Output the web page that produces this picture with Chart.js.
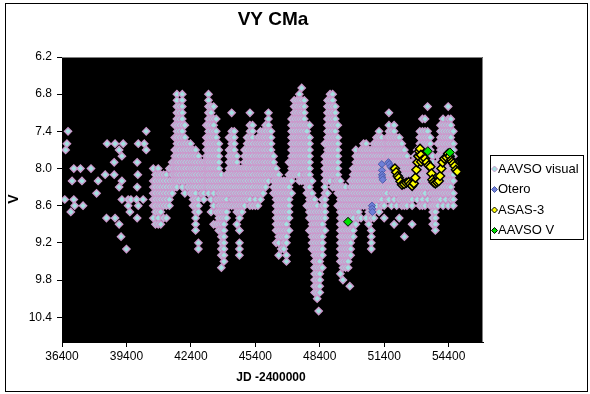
<!DOCTYPE html>
<html>
<head>
<meta charset="utf-8">
<script src="https://cdn.jsdelivr.net/npm/chart.js@4"></script>
<style>
  body { margin: 0; background: #fff; }
  canvas { display: block; }
</style>
</head>
<body>
<canvas id="chart" width="590" height="394"></canvas>
<script>
// Axis ticks
const xTicks = [36400, 39400, 42400, 45400, 48400, 51400, 54400];
const yTicks = [6.2, 6.8, 7.4, 8.0, 8.6, 9.2, 9.8, 10.4];

// AAVSO visual: one entry per date, magnitudes at that date
const visualJD = [
  36530, 36570, 36630, 36680, 36810, 36870, 36950, 36990, 37260, 37330, 37380, 37750,
  38010, 38080, 38410, 38470, 38500, 38830, 38870, 39060, 39150, 39190, 39250, 39400,
  39480, 39560, 39610, 39870, 39900, 39930, 39950, 40180, 40230, 40320,
  40650, 40750, 40880, 41000, 41130, 41260, 41400, 41530, 41650, 41750, 41870, 42000,
  42120, 42250, 42380, 42500, 42620, 42750, 42880, 43000, 43120, 43220, 43340, 43460,
  43580, 43700, 43820, 43940, 44060, 44180, 44300, 44420, 44540, 44660, 44780, 44900,
  45020, 45150, 45270, 45400, 45520, 45640, 45760, 45880, 46010, 46130, 46250, 46370,
  46490, 46610, 46730, 46850, 46970, 47090, 47210, 47330, 47450, 47560, 47680, 47800,
  47920, 48040, 48160, 48280, 48350, 48400, 48520, 48640, 48760, 48880, 49000, 49120,
  49240, 49360, 49480, 49600, 49720, 49800, 49840, 49960, 50080, 50200, 50320, 50440,
  50560, 50680, 50800, 50920, 51040, 51160, 51280, 51400, 51520, 51620, 51740, 51860,
  51980, 52100, 52220, 52340, 52460, 52580, 52700, 52820, 52940, 53060, 53180, 53300,
  53420, 53540, 53660, 53780, 53900, 54020, 54140, 54260, 54380, 54500, 54620
];
const visualMag = [
  "8.5", "7.7", "7.6", "7.4", "8.7", "8.2", "8.0 8.5", "8.6", "8.0", "8.2", "8.6", "8.0",
  "8.4", "8.2", "8.1", "8.8", "7.6", "7.9 8.1", "7.6 8.8", "7.7 8.3 8.9", "9.1", "7.8 8.2 8.5", "7.6", "9.3",
  "8.5 8.6", "8.7", "8.5", "8.5", "7.9 8.3 8.8", "8.1", "7.6 8.6", "8.5", "7.6", "7.4 7.7",
  "8.0 8.2 8.3 8.4 8.5 8.6 8.8",
  "8.1 8.2 8.3 8.4 8.5 8.6 8.7 8.9",
  "8.0 8.1 8.2 8.3 8.4 8.5 8.6 8.7 8.8 8.9",
  "8.1 8.2 8.3 8.4 8.5 8.6 8.7 8.9",
  "8.1 8.2 8.3 8.4 8.5 8.6 8.8",
  "8.1 8.2 8.3 8.4 8.5 8.6 8.8",
  "8.0 8.2 8.3 8.4 8.5 8.6",
  "7.9 8.0 8.1 8.2 8.3 8.4",
  "7.3 7.5 7.7 7.8 7.9 8.0 8.1 8.2 8.3",
  "6.8 6.9 7.0 7.1 7.2 7.3 7.4 7.5 7.6 7.7 7.8 7.9 8.0 8.1 8.2 8.3",
  "7.0 7.1 7.2 7.3 7.4 7.5 7.6 7.7 7.8 7.9 8.0 8.1 8.2",
  "6.8 6.9 7.0 7.1 7.2 7.3 7.4 7.5 7.6 7.7 7.8 7.9 8.0 8.1 8.2 8.3",
  "7.3 7.5 7.6 7.7 7.8 7.9 8.0 8.1 8.2 8.4",
  "7.6 7.7 7.8 7.9 8.0 8.1 8.2 8.3",
  "7.6 7.7 7.8 7.9 8.0 8.1 8.2 8.3 8.4",
  "7.7 7.8 7.9 8.0 8.1 8.2 8.3 8.4 8.5 8.6",
  "7.7 7.8 7.9 8.0 8.1 8.2 8.3 8.4 8.5 8.6 8.7 8.8 8.9 9.0",
  "7.8 7.9 8.0 8.1 8.2 8.3 8.5 8.6 8.7 9.2 9.3",
  "7.9 8.0 8.1 8.2 8.3 8.4",
  "7.9 8.0 8.1 8.2 8.3 8.4 8.5",
  "7.3 7.5 7.6 7.7 7.8 7.9 8.0 8.1 8.2 8.3",
  "6.8 6.9 7.0 7.1 7.2 7.3 7.4 7.5 7.6 7.7 7.8 7.9 8.0 8.1 8.2 8.3 8.4",
  "7.0 7.1 7.2 7.3 7.4 7.5 7.6 7.7 7.8 7.9 8.0 8.1 8.2 8.3 8.5 8.7",
  "7.0 7.2 7.3 7.4 7.5 7.6 7.7 7.8 7.9 8.0 8.1 8.2 8.3 8.4 8.6 8.9",
  "7.2 7.4 7.5 7.6 7.7 7.8 7.9 8.0 8.1 8.2 8.3 8.5 8.7 8.9",
  "7.6 7.7 7.8 7.9 8.0 8.1 8.2 8.3 8.4 8.5 8.6 8.7 8.8 8.9 9.0",
  "8.1 8.2 8.3 8.4 8.5 8.6 8.7 8.8 8.9 9.0 9.1 9.2 9.3 9.4 9.6",
  "8.2 8.3 8.4 8.5 8.6 8.7 8.8 8.9 9.0 9.1 9.2 9.3 9.4 9.5",
  "8.1 8.2 8.3 8.4 8.5 8.6 8.7 8.8",
  "7.5 7.7 7.8 7.9 8.0 8.1 8.2 8.3 8.4 8.6",
  "7.1 7.4 7.5 7.6 7.7 7.8 7.9 8.0 8.1 8.2 8.3 8.4 8.5 8.6",
  "7.4 7.5 7.6 7.7 7.8 7.9 8.0 8.1 8.2 8.3 8.4 8.5 8.6",
  "7.8 7.9 8.0 8.1 8.2 8.3 8.4 8.5 8.6 8.7 8.9",
  "8.0 8.1 8.2 8.3 8.4 8.5 8.6 8.7 8.8 9.0 9.2 9.3 9.4",
  "8.0 8.1 8.2 8.3 8.4 8.5 8.6 8.7",
  "7.7 7.8 7.9 8.0 8.1 8.2 8.3 8.4 8.5 8.6",
  "7.5 7.6 7.7 7.8 7.9 8.0 8.1 8.2 8.3 8.4 8.5",
  "7.1 7.3 7.4 7.5 7.6 7.7 7.8 7.9 8.0 8.1 8.2 8.3 8.4 8.5 8.6",
  "7.3 7.4 7.5 7.6 7.7 7.8 7.9 8.0 8.1 8.2 8.3 8.4 8.6",
  "7.6 7.7 7.8 7.9 8.0 8.1 8.2 8.3 8.4 8.5 8.6",
  "7.5 7.6 7.7 7.8 7.9 8.0 8.1 8.2 8.3 8.4 8.6",
  "7.4 7.5 7.6 7.7 7.8 7.9 8.0 8.1 8.2 8.3 8.4 8.5",
  "7.4 7.5 7.6 7.7 7.8 7.9 8.0 8.1 8.2 8.3 8.4",
  "7.3 7.4 7.5 7.6 7.7 7.8 7.9 8.0 8.1 8.2 8.3",
  "7.1 7.2 7.3 7.4 7.5 7.6 7.7 7.8 7.9 8.0 8.1 8.2",
  "7.4 7.5 7.6 7.7 7.8 7.9 8.0 8.1",
  "7.8 7.9 8.0 8.1 8.2 8.3 8.4",
  "8.0 8.1 8.2 8.3 8.4 8.5 8.6 8.7 8.8 8.9 9.0 9.2",
  "8.1 8.2 8.3 8.4 8.5 8.6 8.7 8.8 8.9 9.0 9.1 9.2 9.4",
  "8.2 8.3 8.4 8.5 8.6 8.7 8.8 8.9 9.0 9.1 9.3",
  "8.2 8.3 8.4 8.5 8.6 8.7 8.8 8.9 9.0 9.1 9.2 9.3",
  "8.2 8.3 8.4 8.5 8.6 8.7 8.8 8.9 9.0 9.1 9.2 9.4 9.5",
  "7.9 8.1 8.2 8.3 8.4 8.5 8.6 8.7 8.8 9.0",
  "7.2 7.3 7.4 7.5 7.6 7.7 7.8 7.9 8.0 8.1 8.2 8.4",
  "6.9 7.0 7.1 7.2 7.3 7.4 7.5 7.6 7.7 7.8 7.9 8.0 8.1",
  "6.9 7.0 7.1 7.2 7.3 7.4 7.5 7.6 7.7 7.8 7.9 8.0 8.1",
  "6.8 6.9 7.0 7.1 7.2 7.3 7.4 7.5 7.6 7.7 7.8 7.9 8.0 8.1 8.2",
  "6.7 6.9 7.0 7.1 7.2 7.3 7.4 7.5 7.6 7.7 7.8 7.9 8.0 8.2",
  "6.9 7.0 7.1 7.2 7.3 7.4 7.5 7.6 7.7 7.8 7.9 8.0 8.1 8.2",
  "7.3 7.4 7.5 7.6 7.7 7.8 7.9 8.0 8.1 8.2 8.3 8.4 8.6",
  "7.3 7.5 7.6 7.7 7.8 7.9 8.0 8.1 8.2 8.3 8.4 8.5 8.6 8.7 8.8 9.0",
  "8.2 8.4 8.5 8.6 8.7 8.8 8.9 9.0 9.1 9.2 9.3",
  "8.5 8.6 8.7 8.8 8.9 9.0 9.1 9.2 9.3 9.4 9.5 9.6 9.7 9.8 9.9 10.0",
  "8.6 8.7 8.8 8.9 9.0 9.1 9.2 9.3 9.4 9.5 9.6 9.7 9.8 9.9 10.0 10.1",
  "10.3",
  "8.7 8.8 8.9 9.0 9.1 9.2 9.3 9.4 9.5 9.6 9.7 9.8 9.9 10.0",
  "8.5 8.6 8.7 8.8 8.9 9.0 9.1 9.2 9.3 9.4 9.6",
  "7.6 7.8 7.9 8.0 8.1 8.2 8.3 8.4 8.5 8.6 8.7 8.8 9.0",
  "6.9 7.0 7.1 7.2 7.3 7.4 7.5 7.6 7.7 7.8 7.9 8.0 8.1 8.2 8.4",
  "6.8 6.9 7.0 7.1 7.2 7.3 7.4 7.5 7.6 7.7 7.8 7.9 8.0 8.1 8.2",
  "6.8 6.9 7.0 7.1 7.2 7.3 7.4 7.5 7.6 7.7 7.8 7.9 8.0 8.1 8.3",
  "7.0 7.1 7.2 7.3 7.4 7.5 7.6 7.7 7.8 7.9 8.0 8.1 8.2 8.3",
  "7.3 7.5 7.6 7.7 7.8 7.9 8.0 8.1 8.2 8.3 8.4 8.6",
  "8.2 8.3 8.4 8.5 8.6 8.7 8.8 8.9 9.0 9.1 9.2 9.3 9.4 9.5 9.7",
  "8.3 8.4 8.5 8.6 8.7 8.8 8.9 9.0 9.1 9.2 9.3 9.4 9.5 9.6 9.8",
  "8.3 8.4 8.5 8.6 8.7 8.8 8.9 9.0 9.1 9.2 9.3 9.4 9.5 9.6",
  "8.4 8.5 8.6 8.7 8.8 8.9 9.0 9.1 9.2 9.3 9.4 9.5 9.6",
  "9.9",
  "8.2 8.3 8.4 8.5 8.6 8.7 8.8 8.9 9.0 9.1 9.2 9.3 9.4",
  "8.0 8.1 8.2 8.3 8.4 8.5 8.6 8.7 8.8 8.9 9.0 9.1",
  "7.7 7.8 7.9 8.0 8.1 8.2 8.3 8.4 8.5 8.6 8.7 8.9",
  "7.8 7.9 8.0 8.1 8.2 8.3 8.4 8.5 8.6 8.7 8.8",
  "7.7 7.8 7.9 8.0 8.1 8.2 8.3 8.4 8.5 8.6 8.8",
  "7.6 7.7 7.8 7.9 8.0 8.1 8.2 8.3 8.4 8.5 8.6",
  "7.6 7.7 7.8 7.9 8.0 8.1 8.2 8.3 8.4 8.5 8.6 8.8",
  "7.7 7.8 7.9 8.0 8.1 8.2 8.3 8.4 8.5 8.6 8.7 8.9",
  "7.7 7.8 7.9 8.0 8.1 8.2 8.3 8.4 8.5 8.6 8.7 8.8 9.0 9.1 9.2 9.3",
  "7.6 7.7 7.8 7.9 8.0 8.1 8.2 8.3 8.4 8.5 8.6 8.7 8.8",
  "7.5 7.6 7.7 7.8 7.9 8.0 8.1 8.2 8.3 8.4 8.5 8.6",
  "7.4 7.5 7.6 7.7 7.8 7.9 8.0 8.1 8.2 8.3 8.4 8.5 8.7",
  "7.5 7.6 7.7 7.8 7.9 8.0 8.1 8.2 8.3 8.4 8.5 8.6",
  "7.6 7.7 7.8 7.9 8.0 8.1 8.2 8.3 8.4 8.6 8.8",
  "7.5 7.6 7.7 7.8 7.9 8.0 8.1 8.2 8.3 8.4 8.5",
  "7.1 7.3 7.4 7.5 7.6 7.7 7.8 7.9 8.0 8.1 8.2 8.3 8.5",
  "7.4 7.5 7.6 7.7 7.8 7.9 8.0 8.1 8.2 8.3 8.4 8.6",
  "7.3 7.4 7.5 7.6 7.7 7.8 7.9 8.0 8.1 8.2 8.3 8.4 8.5 8.9",
  "7.5 7.6 7.7 7.8 7.9 8.0 8.1 8.2 8.3 8.4 8.6",
  "7.5 7.6 7.7 7.8 7.9 8.0 8.1 8.2 8.3 8.4 8.5 8.8",
  "7.6 7.7 7.8 7.9 8.0 8.1 8.2 8.3 8.4 8.5 8.6",
  "7.7 7.8 7.9 8.0 8.1 8.2 8.3 8.4 8.5 8.6 9.1",
  "7.8 7.9 8.0 8.1 8.2 8.3 8.4 8.5 8.6",
  "7.9 8.0 8.1 8.2 8.3 8.4 8.5",
  "7.9 8.0 8.1 8.2 8.3 8.4 8.5 8.6 8.9",
  "7.8 7.9 8.0 8.1 8.2 8.3 8.4",
  "7.7 7.8 7.9 8.0 8.1 8.2 8.3 8.4 8.5",
  "7.4 7.5 7.6 7.7 7.8 7.9 8.0 8.1 8.2 8.3 8.4 8.6",
  "7.2 7.4 7.5 7.6 7.7 7.8 7.9 8.0 8.1 8.2 8.3 8.4 8.5 8.6",
  "7.2 7.4 7.5 7.6 7.7 7.8 7.9 8.0 8.1 8.2 8.3 8.4 8.6",
  "7.0 7.4 7.5 7.6 7.7 7.8 7.9 8.0 8.1 8.2 8.3 8.5",
  "7.5 7.6 7.7 7.8 7.9 8.0 8.1 8.2 8.3 8.4 8.6",
  "7.8 7.9 8.0 8.1 8.2 8.3 8.4 8.5 8.6 8.7 8.8 8.9",
  "8.0 8.1 8.2 8.3 8.4 8.5 8.6 8.7 8.8 8.9 9.0",
  "7.6 7.8 7.9 8.0 8.1 8.2 8.3 8.4 8.5 8.6",
  "7.3 7.4 7.5 7.6 7.7 7.8 7.9 8.0 8.1 8.2 8.3 8.4 8.5",
  "7.2 7.3 7.4 7.5 7.6 7.7 7.8 7.9 8.0 8.1 8.2 8.3 8.4 8.6",
  "7.3 7.4 7.5 7.6 7.7 7.8 7.9 8.0 8.1 8.2 8.3 8.4 8.5",
  "7.0 7.2 7.3 7.4 7.5 7.6 7.7 7.8 7.9 8.0 8.1 8.2 8.3 8.4 8.6",
  "7.2 7.3 7.4 7.5 7.6 7.7 7.8 7.9 8.0 8.1 8.2 8.3 8.4 8.5",
  "7.4 7.6 7.7 7.8 7.9 8.0 8.1 8.2 8.4 8.5 8.6"
];

// Otero
const oteroJD  = [50830, 50840, 50850, 51290, 51295, 51300, 51305, 51330, 51600, 51640, 51700, 51760];
const oteroMag = [8.60, 8.65, 8.70, 7.93, 8.03, 8.10, 8.14, 8.18, 7.90, 7.93, 7.97, 8.00];

// ASAS-3
const asasJD = [
  51900, 51960, 52030, 52080, 52160, 52230, 52330, 52430, 52540, 52620, 52700, 52780,
  52850, 52900, 52950, 52990, 53030, 53070, 53110, 53120, 53200, 53300, 53380, 53470,
  53550, 53600, 53640, 53700, 53780, 53860, 53940, 54000, 54060, 54120, 54200, 54300,
  54380, 54450, 54520, 54560, 54620, 54680, 54740, 54800
];
const asasMag = [
  8.00, 8.06, 8.12, 8.15, 8.21, 8.26, 8.25, 8.23, 8.22, 8.25, 8.28, 8.24,
  8.15, 8.02, 7.90, 7.80, 7.72, 7.68, 7.78, 7.89, 7.86, 7.84, 7.90, 7.95,
  7.97, 8.08, 8.18, 8.22, 8.24, 8.22, 8.20, 8.12, 8.00, 7.90, 7.84, 7.82,
  7.76, 7.80, 7.86, 7.89, 7.92, 7.96, 8.02, 8.05
];

// AAVSO V
const vJD  = [49715, 53431, 54457];
const vMag = [8.86, 7.72, 7.74];

// build point tables
const visualPoints = [];
visualJD.forEach((jd, i) => {
  visualMag[i].split(' ').forEach(m => visualPoints.push({ x: jd, y: Number(m) }));
});
const toPoints = (xs, ys) => xs.map((x, i) => ({ x: x, y: ys[i] }));

const FONT = "'Liberation Sans', Arial, sans-serif";

const datasets = [
  { label: 'AAVSO visual', data: visualPoints, order: 4,
    pointStyle: 'rectRot', pointRadius: 3.7, borderWidth: 1.3,
    backgroundColor: '#A3E0E0', borderColor: '#CC99CC' },
  { label: 'Otero', data: toPoints(oteroJD, oteroMag), order: 3,
    pointStyle: 'rectRot', pointRadius: 3.6, borderWidth: 1,
    backgroundColor: '#6F80D8', borderColor: '#4B5BA8' },
  { label: 'ASAS-3', data: toPoints(asasJD, asasMag), order: 2,
    pointStyle: 'rectRot', pointRadius: 4.5, borderWidth: 1.5,
    backgroundColor: '#FFFF00', borderColor: '#000000' },
  { label: 'AAVSO V', data: toPoints(vJD, vMag), order: 1,
    pointStyle: 'rectRot', pointRadius: 4.5, borderWidth: 1,
    backgroundColor: '#00E000', borderColor: '#000000' }
];

// black plot area, frame, title, axis titles and the boxed legend
const decorations = {
  id: 'decorations',
  beforeDatasetsDraw(chart) {
    const { ctx, chartArea: a } = chart;
    ctx.save();
    ctx.fillStyle = '#000';
    ctx.fillRect(a.left, a.top, a.right - a.left, a.bottom - a.top);
    ctx.strokeStyle = '#808080';
    ctx.lineWidth = 1;
    ctx.beginPath();
    ctx.moveTo(a.left, a.top + 0.5);
    ctx.lineTo(a.right - 0.5, a.top + 0.5);
    ctx.lineTo(a.right - 0.5, a.bottom);
    ctx.stroke();
    ctx.restore();
  },
  afterDraw(chart) {
    const ctx = chart.ctx;
    ctx.save();
    ctx.strokeStyle = '#000';
    ctx.lineWidth = 1;
    ctx.strokeRect(5.5, 3.5, 582, 388);

    ctx.fillStyle = '#000';
    ctx.textAlign = 'center';
    ctx.textBaseline = 'middle';
    ctx.font = 'bold 19px ' + FONT;
    ctx.fillText('VY CMa', 273, 20);
    ctx.font = 'bold 12px ' + FONT;
    ctx.fillText('JD -2400000', 271, 378);
    ctx.save();
    ctx.translate(14, 199);
    ctx.rotate(-Math.PI / 2);
    ctx.font = 'bold 14px ' + FONT;
    ctx.fillText('V', 0, 0);
    ctx.restore();

    // legend
    ctx.strokeRect(490.5, 155.5, 93, 84);
    ctx.font = '13px ' + FONT;
    ctx.textAlign = 'left';
    chart.data.datasets.forEach((ds, i) => {
      const y = 169 + i * 20.5;
      const r = 3;
      ctx.beginPath();
      ctx.moveTo(494.5, y - r);
      ctx.lineTo(494.5 + r, y);
      ctx.lineTo(494.5, y + r);
      ctx.lineTo(494.5 - r, y);
      ctx.closePath();
      ctx.fillStyle = ds.backgroundColor;
      ctx.fill();
      ctx.strokeStyle = ds.borderColor;
      ctx.lineWidth = 1;
      ctx.stroke();
      ctx.fillStyle = '#000';
      ctx.fillText(ds.label, 498, y);
    });
    ctx.restore();
  }
};

new Chart(document.getElementById('chart'), {
  type: 'scatter',
  data: { datasets: datasets },
  options: {
    responsive: false,
    animation: false,
    layout: { padding: { left: 5, top: 57, right: 107, bottom: 4 } },
    plugins: {
      legend: { display: false },
      title: { display: false },
      tooltip: { enabled: false }
    },
    scales: {
      x: {
        type: 'linear',
        min: 36400,
        max: 56000,
        afterBuildTicks: s => { s.ticks = xTicks.map(v => ({ value: v })); },
        afterFit: s => { s.height = 48; },
        ticks: {
          callback: v => String(v),
          color: '#000',
          font: { family: FONT, size: 12 },
          padding: 2,
          maxRotation: 0,
          autoSkip: false
        },
        grid: { drawOnChartArea: false, tickLength: 5, color: '#000' },
        border: { color: '#000' }
      },
      y: {
        type: 'linear',
        reverse: true,
        min: 6.2,
        max: 10.8,
        afterBuildTicks: s => { s.ticks = yTicks.map(v => ({ value: v })); },
        afterFit: s => { s.width = 57; },
        ticks: {
          callback: v => v.toFixed(1),
          color: '#000',
          font: { family: FONT, size: 12 },
          padding: 5,
          autoSkip: false
        },
        grid: { drawOnChartArea: false, tickLength: 5, color: '#000' },
        border: { color: '#000' }
      }
    }
  },
  plugins: [decorations]
});
</script>
</body>
</html>
